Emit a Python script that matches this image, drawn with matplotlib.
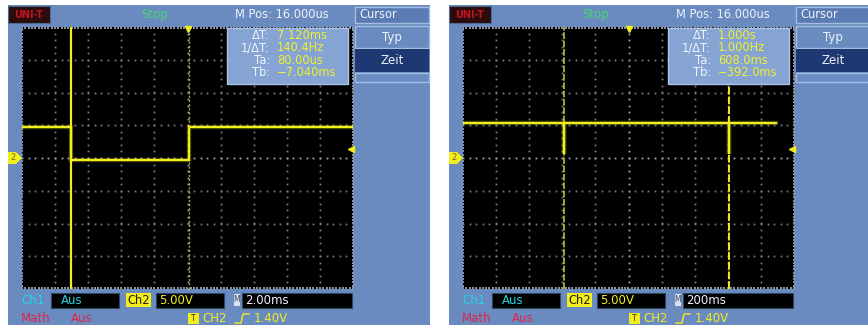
import matplotlib.pyplot as plt
import numpy as np
from matplotlib.patches import Rectangle, Polygon

W, H = 868, 325

# Capture 1: 2 ms/div, CH2 5 V/div
left_t = [-10.0, -7.04, -7.04, 0.08, 0.08, 10.0]      # ms
left_v = [4.7, 4.7, -0.25, -0.25, 4.7, 4.7]            # V
left_cursors = [-7.04, 0.08]                           # Tb, Ta (ms)
left_readout = ['7.120ms', '140.4Hz', '80.00us', '\u22127.040ms']
left_timebase = '2.00ms'

# Capture 2: 200 ms/div, CH2 5 V/div
right_t = [-1000, -392, -392, -392, 608, 608, 608, 890]   # ms
right_v = [5.3, 5.3, 0.6, 5.3, 5.3, 0.6, 5.3, 5.3]        # V
right_cursors = [-392, 608]                               # Tb, Ta (ms)
right_readout = ['1.000s', '1.000Hz', '608.0ms', '\u2212392.0ms']
right_timebase = '200ms'

readout_labels = ['\u0394T:', '1/\u0394T:', 'Ta:', 'Tb:']
volts_div = 5.0
trig_level = 1.40

PANEL = '#6a8bbf'
EDGE = '#a3bde3'
YEL = '#f2ee1e'
CYAN = '#27d3e3'
RED = '#e0244a'
WHITE = '#eef3fb'

fig = plt.figure(figsize=(W / 100, H / 100), dpi=100, facecolor='white')
bg = fig.add_axes([0, 0, 1, 1], zorder=0)
fg = fig.add_axes([0, 0, 1, 1], zorder=3)
for a in (bg, fg):
    a.set_xlim(0, W)
    a.set_ylim(H, 0)
    a.axis('off')
fg.patch.set_alpha(0)


def box(ax, x0, y0, x1, y1, fc, ec='none', lw=0.8):
    ax.add_patch(Rectangle((x0, y0), x1 - x0, y1 - y0, facecolor=fc,
                           edgecolor=ec, linewidth=lw))


def txt(x, y, s, color=WHITE, size=8.5, ha='left', **kw):
    fg.text(x, y, s, color=color, fontsize=size, ha=ha, va='center', **kw)


def draw_panel(dx, bg_x1, t, v, cursors, readout, timebase, tdiv):
    # body of the instrument
    box(bg, 8 + dx, 5, bg_x1, H + 2, PANEL)

    # status bar
    box(fg, 8 + dx, 6, 50 + dx, 23, '#2c0b0c', '#4d6b90', 0.8)
    txt(29 + dx, 14.5, 'UNI-T', color='#c4141e', size=7, ha='center',
        fontweight='bold')
    txt(155 + dx, 14.5, 'Stop', color='#45d873', ha='center')
    txt(235 + dx, 14.5, 'M Pos: 16.000us', size=8.3)

    # soft-key menu
    box(fg, 355 + dx, 7, 429 + dx, 23, '#5a7bb3', EDGE, 1.0)
    txt(359 + dx, 15, 'Cursor', size=8.3)
    box(fg, 355 + dx, 26, 429 + dx, 48, PANEL, EDGE, 1.0)
    txt(392 + dx, 37, 'Typ', ha='center', size=8.5)
    box(fg, 355 + dx, 49, 429 + dx, 72, '#1d3872', 'none')
    txt(392 + dx, 60, 'Zeit', ha='center', size=8.5)
    box(fg, 355 + dx, 73, 429 + dx, 82, PANEL, EDGE, 1.0)

    # waveform screen
    sx0, sx1, sy0, sy1 = 22 + dx, 353 + dx, 27, 289
    ax = fig.add_axes([sx0 / W, 1 - sy1 / H, (sx1 - sx0) / W, (sy1 - sy0) / H],
                      zorder=1)
    ax.set_facecolor('black')
    xmax, ymax = 5 * tdiv, 4 * volts_div
    ax.set_xlim(-xmax, xmax)
    ax.set_ylim(-ymax, ymax)
    ax.set_xticks([])
    ax.set_yticks([])
    for s in ax.spines.values():
        s.set_visible(False)

    # dotted graticule, 10 x 8 divisions
    fine_x = np.arange(-5, 5.01, 0.2) * tdiv
    fine_y = np.arange(-4, 4.01, 0.2) * volts_div
    for k in range(-4, 5):
        c = '#a0a8b2' if k == 0 else '#737a83'
        ax.plot(np.full_like(fine_y, k * tdiv), fine_y, ls='none', marker='s',
                ms=1.3, mew=0, color=c)
    for j in range(-3, 4):
        c = '#a0a8b2' if j == 0 else '#737a83'
        ax.plot(fine_x, np.full_like(fine_x, j * volts_div), ls='none',
                marker='s', ms=1.3, mew=0, color=c)
    edge_x = np.arange(-5, 5.01, 0.1) * tdiv
    edge_y = np.arange(-4, 4.01, 0.1) * volts_div
    for yy in (-ymax * 0.995, ymax * 0.995):
        ax.plot(edge_x, np.full_like(edge_x, yy), ls='none', marker='s',
                ms=1.5, mew=0, color='#8a929b')
    for xx in (-xmax * 0.997, xmax * 0.997):
        ax.plot(np.full_like(edge_y, xx), edge_y, ls='none', marker='s',
                ms=1.5, mew=0, color='#8a929b')

    # cursors
    tb, ta = cursors
    if dx == 0:
        ax.axvline(tb, color=YEL, lw=1.6)
        ax.axvline(ta, color='#cfcf60', lw=1.0, ls=(0, (1.5, 1.5)), alpha=0.8)
    else:
        ax.axvline(tb, color='#d6d43a', lw=1.2, ls=(0, (4, 1)), alpha=0.9)
        ax.axvline(ta, color=YEL, lw=1.4, ls=(0, (4, 1)))

    # CH2 trace
    ax.plot(t, v, color=YEL, lw=3.2, alpha=0.25, solid_joinstyle='miter')
    ax.plot(t, v, color=YEL, lw=1.6, solid_joinstyle='miter')

    # trigger position and level markers
    ax.plot([0], [ymax * 0.985], marker='v', ms=5, color=YEL, clip_on=False)
    ax.plot([xmax * 0.99], [trig_level], marker='<', ms=5, color=YEL,
            clip_on=False)

    # CH2 ground reference tag
    gy = sy1 - (sy1 - sy0) / 2
    fg.add_patch(Polygon([(8 + dx, gy - 6), (16 + dx, gy - 6), (22 + dx, gy),
                          (16 + dx, gy + 6), (8 + dx, gy + 6)],
                         closed=True, facecolor=YEL, edgecolor='none'))
    txt(13.5 + dx, gy, '2', color='#6a6a10', size=6, ha='center')

    # cursor readout
    box(fg, 227 + dx, 28, 348 + dx, 84, '#85a3d3', '#aac3e7', 1.0)
    for i, (lab, val) in enumerate(zip(readout_labels, readout)):
        y = 35.5 + i * 12.3
        txt(270 + dx, y, lab, ha='right', size=8.3)
        txt(277 + dx, y, val, color='#f0f030', size=8.3)

    # bottom status rows
    txt(21 + dx, 300, 'Ch1', color=CYAN, size=8.5)
    box(fg, 51 + dx, 293, 119 + dx, 308, 'black', '#30465f', 0.8)
    txt(61 + dx, 300.5, 'Aus', color=CYAN, size=8.5)
    box(fg, 126 + dx, 293, 151 + dx, 307, YEL, 'none')
    txt(138.5 + dx, 300, 'Ch2', color='#222200', size=8.3, ha='center')
    box(fg, 156 + dx, 293, 224 + dx, 308, 'black', '#30465f', 0.8)
    txt(159 + dx, 300.5, '5.00V', color=YEL, size=8.5)
    box(fg, 234 + dx, 294, 240 + dx, 306, '#d8e4f4', 'none')
    txt(237 + dx, 300, 'M', color='#445', size=5.5, ha='center')
    box(fg, 242 + dx, 293, 352 + dx, 308, 'black', '#30465f', 0.8)
    txt(245 + dx, 300.5, timebase, color=WHITE, size=8.5)

    txt(21 + dx, 319, 'Math', color=RED, size=8.5)
    txt(71 + dx, 319, 'Aus', color=RED, size=8.5)
    box(fg, 188 + dx, 313, 199 + dx, 324, YEL, 'none')
    txt(193.5 + dx, 318.5, 'T', color='#333300', size=5.5, ha='center')
    txt(202 + dx, 319, 'CH2', color=YEL, size=8.5)
    fg.plot([235 + dx, 241 + dx, 243 + dx, 249 + dx],
            [323, 323, 314, 314], color=YEL, lw=1.0)
    txt(254 + dx, 319, f'{trig_level:.2f}V', color=YEL, size=8.5)


draw_panel(0, 430, left_t, left_v, left_cursors, left_readout,
           left_timebase, 2.0)
draw_panel(441, W + 2, right_t, right_v, right_cursors, right_readout,
           right_timebase, 200.0)

fig.savefig('out.png', dpi=100, facecolor='white')
